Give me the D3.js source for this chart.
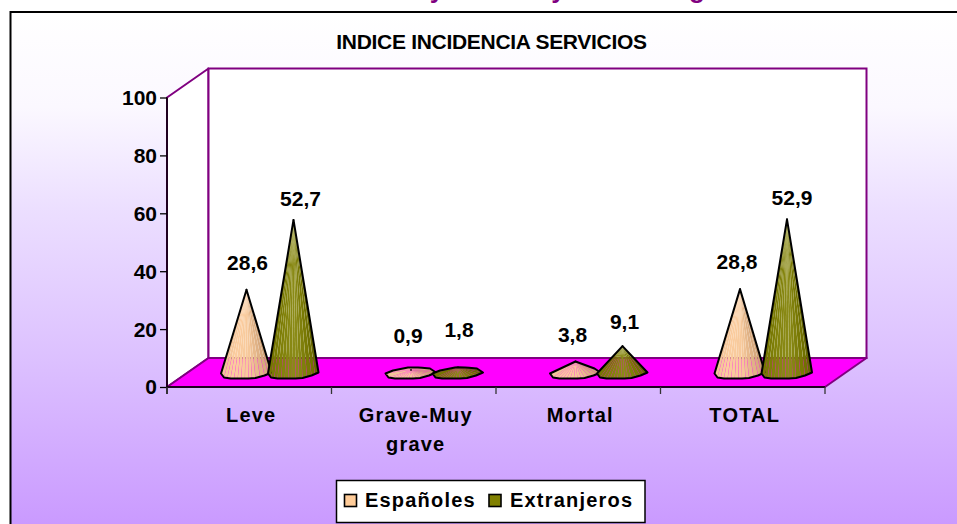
<!DOCTYPE html>
<html><head><meta charset="utf-8">
<script src="https://cdnjs.cloudflare.com/ajax/libs/d3/7.8.5/d3.min.js"></script>
<style>html,body{margin:0;padding:0;background:#fff;overflow:hidden}svg{display:block}text{font-family:"Liberation Sans",Arial,sans-serif;font-weight:700;fill:#000}</style>
</head><body><svg id="c" width="957" height="524"></svg>
<script>
const categories = ["Leve", "Grave-Muy grave", "Mortal", "TOTAL"];
const seriesNames = ["Españoles", "Extranjeros"];
const espanoles = [28.6, 0.9, 3.8, 28.8];
const extranjeros = [52.7, 1.8, 9.1, 52.9];
const yTicks = [0, 20, 40, 60, 80, 100];
const chartTitle = "INDICE INCIDENCIA SERVICIOS";
const seriesColors = ["#FFCC99", "#808000"];

const svg = d3.select("#c");
const X0 = 167, X1 = 825, Y0 = 387, Y1 = 97.5, DX = 41.5, DY = -29;
const y = d3.scaleLinear().domain([0, 100]).range([Y0, Y1]);
const x = d3.scaleBand().domain(categories).range([X0, X1]);
const fmt = v => String(v).replace(".", ",");

const defs = svg.append("defs");
const bg = defs.append("linearGradient").attr("id", "bg").attr("x1", 0).attr("y1", 0).attr("x2", 0).attr("y2", 1);
[[0, "#ffffff"], [.18, "#fbf8ff"], [.37, "#ecdfff"], [.66, "#dcc0ff"], [1, "#c896ff"]]
  .forEach(s => bg.append("stop").attr("offset", s[0]).attr("stop-color", s[1]));

// frame (runs past the right and bottom of the photographed area)
svg.append("rect").attr("x", 10.5).attr("y", 12).attr("width", 960).attr("height", 530)
  .attr("fill", "url(#bg)").attr("stroke", "#000").attr("stroke-width", 2);

// cropped heading: only the descenders remain visible
svg.selectAll("text.cut").data([[437, "y"], [558.5, "y"], [697, "g"]]).join("text").attr("class", "cut")
  .attr("x", d => d[0]).attr("y", -2.5).attr("text-anchor", "middle")
  .style("font-size", "26px").style("fill", "#800080").text(d => d[1]);

svg.append("text").attr("x", 491.5).attr("y", 48.5).attr("text-anchor", "middle")
  .style("font-size", "21px").style("letter-spacing", "-0.3px").text(chartTitle);

// 3D box
const purple = "#800080";
const pts = a => a.map(p => p.join(",")).join(" ");
svg.append("polygon").attr("points", pts([[X0, Y1], [X0 + DX, Y1 + DY], [X0 + DX, Y0 + DY], [X0, Y0]])).attr("fill", "#fff").attr("stroke", purple).attr("stroke-width", 2).attr("stroke-linejoin", "round");
svg.append("rect").attr("x", X0 + DX).attr("y", Y1 + DY).attr("width", X1 - X0).attr("height", Y0 - Y1)
  .attr("fill", "#fff").attr("stroke", purple).attr("stroke-width", 2);
svg.append("polygon").attr("points", pts([[X0, Y0], [X0 + DX, Y0 + DY], [X1 + DX, Y0 + DY], [X1, Y0]])).attr("fill", "#ff00ff").attr("stroke", purple).attr("stroke-width", 2).attr("stroke-linejoin", "round");

// axes
const ax = svg.append("g").attr("transform", `translate(${X0},0)`)
  .call(d3.axisLeft(y).tickValues(yTicks).tickSize(7).tickPadding(3));
ax.select(".domain").attr("stroke", "#000").attr("stroke-width", 1.5).attr("d", `M0,${Y1}V${Y0 + 7}`);
ax.selectAll("line").attr("stroke", "#000").attr("stroke-width", 1.3);
ax.selectAll("text").style("font-size", "21px").style("font-family", '"Liberation Sans",Arial,sans-serif').attr("dy", "0.33em");

const bx = svg.append("g").attr("transform", `translate(0,${Y0})`)
  .call(d3.axisBottom(x).tickSize(0).tickFormat(""));
bx.select(".domain").attr("stroke", "#000").attr("stroke-width", 1.5).attr("d", `M${X0},0H${X1}`);
bx.selectAll(".tick").remove();
[0, 1, 2, 3, 4].forEach(i => {
  const tx = X0 + i * x.bandwidth();
  bx.append("line").attr("x1", tx).attr("x2", tx).attr("y1", 0).attr("y2", 7).attr("stroke", "#333").attr("stroke-width", 1.3);
});

// category labels, wrapped on two lines
const catLines = c => c === "Grave-Muy grave" ? ["Grave-Muy", "grave"] : [c];
categories.forEach(c => {
  catLines(c).forEach((t, i) => {
    svg.append("text").attr("x", x(c) + x.bandwidth() / 2 + 2).attr("y", 421.5 + i * 29)
      .attr("text-anchor", "middle").style("font-size", "20px").style("letter-spacing", "1.2px").text(t);
  });
});

// cone base outline, relative to the centre of the base
const baseOutline = [[-25.5, 1], [-22.5, 5], [-16, 6], [2, 6], [9, 5.5], [18, 3], [25, 0], [19, -4], [7, -5], [-3, -5], [-18, -2]];
const dense = [];
baseOutline.forEach((p, i) => {
  const q = baseOutline[(i + 1) % baseOutline.length], d = Math.abs(q[0] - p[0]), n = Math.max(1, Math.round(d / 4));
  for (let k = 0; k < n; k++) dense.push([p[0] + (q[0] - p[0]) * k / n, p[1] + (q[1] - p[1]) * k / n]);
});
const ramps = [
  d3.scaleLinear().domain([0, .2, .55, .85, 1]).range(["#f0c296", "#fbcc9e", "#f7c99b", "#dcae82", "#c89a70"]),
  d3.scaleLinear().domain([0, .2, .55, .85, 1]).range(["#737300", "#808008", "#8c8c18", "#757500", "#5f5f00"])
];
// offsets of the value labels from the tip of each cone
const labelShift = [
  [[1, -20], [-3, -27], [-3, -19.5], [-3, -20]],
  [[7, -14], [1, -30], [2, -17], [5, -14]]
];

const series = [espanoles, extranjeros];
const sub = d3.scaleBand().domain([0, 1]).range([-47, 47]);
categories.forEach((c, ci) => {
  const mid = x(c) + x.bandwidth() / 2 + DX / 2;
  const by = Y0 + DY / 2;
  series.forEach((vals, si) => {
    const v = vals[ci];
    const cx = mid + sub(si) + sub.bandwidth() / 2;
    const tip = [cx, y(v) + DY / 2];
    const g = svg.append("g");
    const ring = dense.map(p => [cx + p[0], by + p[1]]);
    const tall = tip[1] < by - 6;
    let facets = ring.map((p, i) => ({ a: p, b: ring[(i + 1) % ring.length] }));
    if (tall) facets = facets.filter(f => f.a[1] + f.b[1] >= 2 * by - 1);
    facets.sort((m, n) => (m.a[1] + m.b[1]) - (n.a[1] + n.b[1]));
    facets.forEach(f => {
      const t = ((f.a[0] + f.b[0]) / 2 - cx + 26) / 52;
      // a hair-thin wedge is left open between facets, as in the reference
      const shrink = p => [p[0] + ((f.a[0] + f.b[0]) / 2 - p[0]) * 0.05, p[1]];
      g.append("polygon").attr("points", pts([tip, shrink(f.a), shrink(f.b)])).attr("fill", ramps[si](t));
    });
    const hull = d3.polygonHull(ring.concat([tip]));
    g.append("polygon").attr("points", pts(hull)).attr("fill", "none").attr("stroke", "#000").attr("stroke-width", 2).attr("stroke-linejoin", "round");
    g.append("circle").attr("cx", tip[0]).attr("cy", tip[1]).attr("r", 0.9).attr("fill", "#000");
  });
});
// value labels on top of all cones
categories.forEach((c, ci) => {
  const mid = x(c) + x.bandwidth() / 2 + DX / 2;
  series.forEach((vals, si) => {
    const v = vals[ci], s = labelShift[si][ci];
    svg.append("text").attr("x", mid + sub(si) + sub.bandwidth() / 2 + s[0]).attr("y", y(v) + DY / 2 + s[1])
      .attr("text-anchor", "middle").style("font-size", "21px").text(fmt(v));
  });
});

// legend
const leg = svg.append("g");
leg.append("rect").attr("x", 336.5).attr("y", 480.5).attr("width", 308.5).attr("height", 42).attr("fill", "#fff").attr("stroke", "#000").attr("stroke-width", 1.5);
[[344.5, 365], [489, 510]].forEach((p, i) => {
  leg.append("rect").attr("x", p[0]).attr("y", 494.5).attr("width", 12).attr("height", 12).attr("fill", seriesColors[i]).attr("stroke", "#000").attr("stroke-width", 1.6);
  leg.append("text").attr("x", p[1]).attr("y", 507).style("font-size", "20px").style("letter-spacing", "1.2px").text(seriesNames[i]);
});
</script></body></html>
